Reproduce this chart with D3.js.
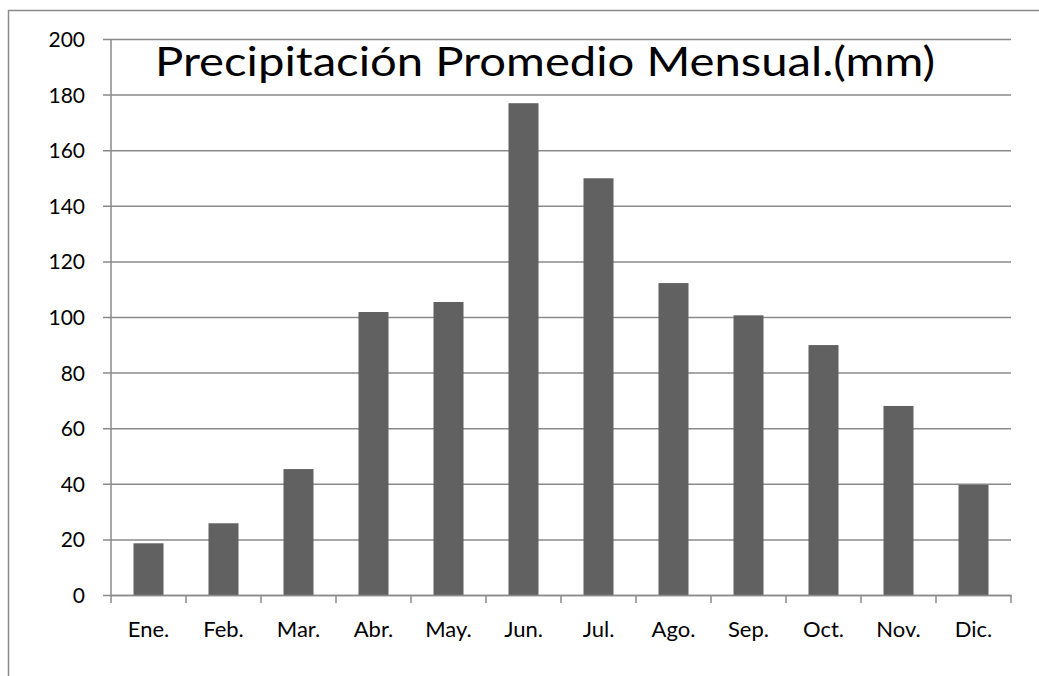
<!DOCTYPE html>
<html>
<head>
<meta charset="utf-8">
<script src="https://cdn.jsdelivr.net/npm/d3@7"></script>
<style>
  body { margin: 0; background: #fff; }
  svg text { font-family: Lato, "Open Sans", sans-serif; fill: #000; }
</style>
</head>
<body>
<div id="wrapper"></div>
<script>
const months = ["Ene.", "Feb.", "Mar.", "Abr.", "May.", "Jun.", "Jul.", "Ago.", "Sep.", "Oct.", "Nov.", "Dic."]
const rain = [18.6, 25.8, 45.3, 101.8, 105.4, 176.9, 149.9, 112.2, 100.6, 89.9, 68, 39.6]
const yTicks = [0, 20, 40, 60, 80, 100, 120, 140, 160, 180, 200]
const title = "Precipitación Promedio Mensual.(mm)"

let dimensions = {width: 1039, height: 676, margin: {top: 39, right: 28, left: 111, bottom: 81}}
const boundWidth = dimensions.width - dimensions.margin.left - dimensions.margin.right
const boundHeight = dimensions.height - dimensions.margin.top - dimensions.margin.bottom
const gridColor = "#8a8a8a"

var wrapper = d3.select("#wrapper").append("svg")
  .attr("width", dimensions.width)
  .attr("height", dimensions.height)

// outer chart frame (runs off the picture on the right and bottom)
wrapper.append("rect")
  .attr("x", 8.5).attr("y", 10.5)
  .attr("width", 1100).attr("height", 800)
  .attr("fill", "none").attr("stroke", gridColor).attr("stroke-width", 1.5)

var bounds = wrapper.append("g")
  .attr("transform", `translate(${dimensions.margin.left},${dimensions.margin.top})`)

var xScale = d3.scaleBand()
  .domain(months)
  .range([0, boundWidth])
  .paddingInner(0.6)
  .paddingOuter(0.3)
var yScale = d3.scaleLinear()
  .domain([0, 200])
  .range([boundHeight, 0])

// gridlines + y axis
var yAxis = bounds.append("g")
  .call(d3.axisLeft(yScale).tickValues(yTicks).tickSize(-boundWidth).tickFormat(d3.format("d")).tickPadding(26))
yAxis.select(".domain").remove()
yAxis.selectAll(".tick line")
  .attr("x1", -8)
  .attr("stroke", gridColor).attr("stroke-width", 1.5)
yAxis.selectAll(".tick text")
  .style("font-size", "21px")
  .attr("dy", "0.36em")

bounds.append("line")
  .attr("x1", 0).attr("x2", 0).attr("y1", 0).attr("y2", boundHeight)
  .attr("stroke", gridColor).attr("stroke-width", 1.5)

// bars
bounds.selectAll("rect.bar")
  .data(rain)
  .enter().append("rect")
    .attr("class", "bar")
    .attr("x", (d, i) => xScale(months[i]))
    .attr("y", d => yScale(d))
    .attr("width", xScale.bandwidth())
    .attr("height", d => boundHeight - yScale(d))
    .attr("fill", "#616161")

// x axis with ticks between categories
var xAxis = bounds.append("g")
  .attr("transform", `translate(0,${boundHeight})`)
  .call(d3.axisBottom(xScale).tickSize(0).tickPadding(26))
xAxis.select(".domain").attr("stroke", gridColor).attr("stroke-width", 1.5)
xAxis.selectAll(".tick text").style("font-size", "22px")

const step = xScale.step()
const edges = d3.range(months.length + 1).map(i => i * step)
xAxis.selectAll("line.sep")
  .data(edges)
  .enter().append("line")
    .attr("class", "sep")
    .attr("x1", d => d).attr("x2", d => d)
    .attr("y1", 0).attr("y2", 8)
    .attr("stroke", gridColor).attr("stroke-width", 1.5)

// title
wrapper.append("text")
  .attr("x", 155).attr("y", 75.5)
  .attr("textLength", 780)
  .attr("lengthAdjust", "spacingAndGlyphs")
  .style("font-size", "40px")
  .text(title)
</script>
</body>
</html>
